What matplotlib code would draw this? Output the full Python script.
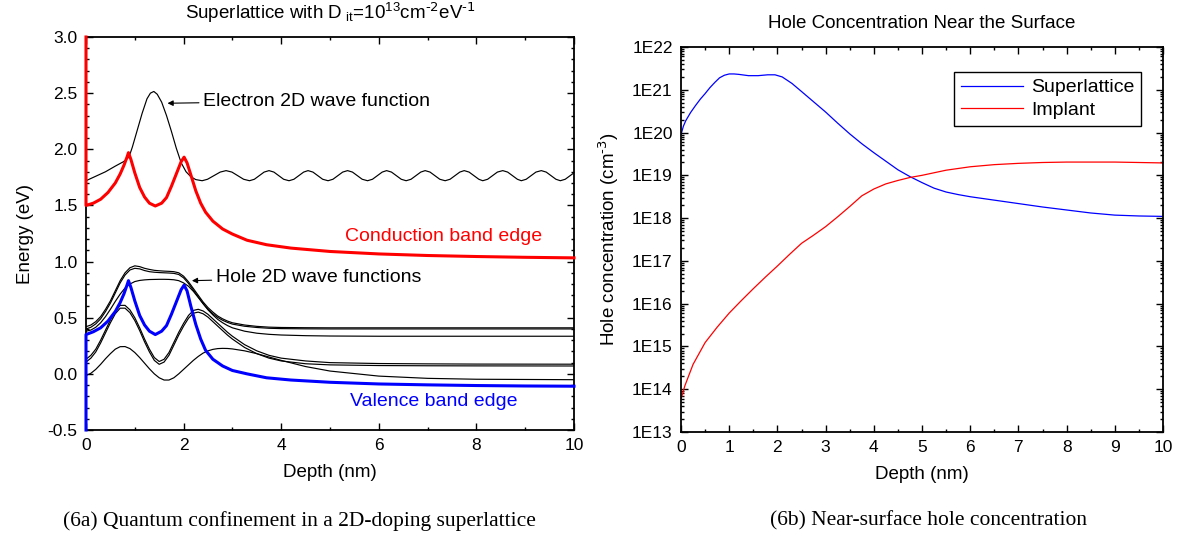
import numpy as np
import matplotlib
matplotlib.use('Agg')
import matplotlib.pyplot as plt
from matplotlib.ticker import MultipleLocator, LogLocator, FuncFormatter, NullFormatter

plt.rcParams['font.family'] = ['Liberation Sans', 'DejaVu Sans']
plt.rcParams['mathtext.default'] = 'regular'

# ---- (6a) band diagram, energies in eV vs depth in nm ----
cb_x = [0.0, 0.0, 0.15, 0.3, 0.45, 0.6, 0.7, 0.78, 0.84, 0.87, 0.92, 1.0, 1.1, 1.2, 1.3, 1.42,
        1.55, 1.65, 1.75, 1.85, 1.95, 2.01, 2.07, 2.15, 2.25, 2.35, 2.45, 2.6, 2.8, 3.0,
        3.3, 3.7, 4.2, 5.0, 6.0, 7.0, 8.0, 9.0, 10.0]
cb_e = [3.0, 1.50, 1.52, 1.555, 1.615, 1.70, 1.78, 1.86, 1.93, 1.97, 1.91, 1.79, 1.66, 1.575, 1.52, 1.495,
        1.52, 1.57, 1.67, 1.78, 1.89, 1.93, 1.88, 1.77, 1.63, 1.52, 1.44, 1.36, 1.29, 1.245,
        1.19, 1.15, 1.12, 1.09, 1.068, 1.054, 1.045, 1.038, 1.033]

vb_x = [0.0, 0.0, 0.15, 0.3, 0.45, 0.6, 0.7, 0.78, 0.84, 0.87, 0.92, 1.0, 1.1, 1.2, 1.3, 1.42,
        1.55, 1.65, 1.75, 1.85, 1.95, 2.01, 2.07, 2.15, 2.25, 2.35, 2.45, 2.6, 2.8, 3.0,
        3.3, 3.7, 4.2, 5.0, 6.0, 7.0, 8.0, 9.0, 10.0]
vb_e = [-0.5, 0.35, 0.375, 0.41, 0.47, 0.555, 0.635, 0.715, 0.79, 0.83, 0.77, 0.65, 0.52, 0.435, 0.38, 0.35,
        0.38, 0.43, 0.53, 0.64, 0.75, 0.79, 0.74, 0.60, 0.44, 0.31, 0.21, 0.13, 0.07, 0.03,
        0.0, -0.035, -0.055, -0.075, -0.09, -0.098, -0.104, -0.108, -0.11]

el_x = [0.0, 0.2, 0.4, 0.6, 0.77, 0.88, 0.95, 1.05, 1.15, 1.25, 1.32, 1.39, 1.46, 1.55, 1.65,
        1.75, 1.85, 1.95, 2.05, 2.15, 2.25,
        2.38, 2.49, 2.62, 2.75, 2.87, 2.99, 3.11, 3.23,
        3.35, 3.45, 3.55, 3.65, 3.75, 3.85, 3.95, 4.05,
        4.16, 4.26, 4.36, 4.46, 4.55, 4.65, 4.75, 4.85,
        4.96, 5.06, 5.16, 5.26, 5.36, 5.46, 5.56, 5.66,
        5.77, 5.87, 5.97, 6.07, 6.16, 6.26, 6.36, 6.46,
        6.56, 6.66, 6.76, 6.86, 6.95, 7.05, 7.15, 7.25,
        7.36, 7.46, 7.56, 7.66, 7.75, 7.85, 7.95, 8.05,
        8.13, 8.23, 8.33, 8.43, 8.54, 8.64, 8.74, 8.84,
        8.92, 9.02, 9.12, 9.22, 9.33, 9.43, 9.53, 9.63,
        9.72, 9.82, 9.92, 10.0]
el_e = [1.72, 1.76, 1.80, 1.85, 1.89, 1.93, 2.02, 2.17, 2.32, 2.45, 2.50, 2.515, 2.49, 2.42, 2.30,
        2.16, 2.01, 1.88, 1.80, 1.755, 1.73,
        1.72, 1.733, 1.765, 1.797, 1.81, 1.797, 1.765, 1.733,
        1.72, 1.733, 1.765, 1.797, 1.81, 1.797, 1.765, 1.733,
        1.72, 1.733, 1.765, 1.797, 1.81, 1.797, 1.765, 1.733,
        1.72, 1.733, 1.765, 1.797, 1.81, 1.797, 1.765, 1.733,
        1.72, 1.733, 1.765, 1.797, 1.81, 1.797, 1.765, 1.733,
        1.72, 1.733, 1.765, 1.797, 1.81, 1.797, 1.765, 1.733,
        1.72, 1.733, 1.765, 1.797, 1.81, 1.797, 1.765, 1.733,
        1.72, 1.733, 1.765, 1.797, 1.81, 1.797, 1.765, 1.733,
        1.72, 1.733, 1.765, 1.797, 1.81, 1.797, 1.765, 1.733,
        1.72, 1.733, 1.765, 1.79]

hole_x = [0.0, 0.1, 0.2, 0.3, 0.4, 0.5, 0.6, 0.7, 0.8, 0.9, 1.0, 1.1, 1.2, 1.3, 1.4, 1.5,
          1.6, 1.7, 1.8, 1.9, 2.0, 2.1, 2.2, 2.3, 2.4, 2.5, 2.6, 2.7, 2.8, 2.9, 3.0,
          3.25, 3.5, 3.75, 4.0, 4.5, 5.0, 6.0, 7.0, 8.0, 10.0]
hole_1 = [0.42, 0.435, 0.465, 0.51, 0.575, 0.65, 0.74, 0.83, 0.90, 0.945, 0.962, 0.955, 0.94, 0.93, 0.922, 0.918,
          0.915, 0.913, 0.91, 0.90, 0.87, 0.82, 0.76, 0.70, 0.64, 0.59, 0.55, 0.515, 0.49, 0.47, 0.455,
          0.435, 0.423, 0.416, 0.413, 0.411, 0.41, 0.41, 0.41, 0.41, 0.41]
hole_2 = [0.40, 0.415, 0.445, 0.49, 0.555, 0.63, 0.72, 0.81, 0.88, 0.925, 0.94, 0.935, 0.92, 0.91, 0.905, 0.902,
          0.90, 0.898, 0.895, 0.885, 0.855, 0.805, 0.745, 0.685, 0.625, 0.575, 0.535, 0.502, 0.477, 0.458, 0.443,
          0.424, 0.413, 0.406, 0.403, 0.401, 0.40, 0.40, 0.40, 0.40, 0.40]
hole_3 = [0.38, 0.39, 0.415, 0.455, 0.51, 0.575, 0.645, 0.71, 0.765, 0.80, 0.822, 0.832, 0.837, 0.84, 0.841, 0.842,
          0.842, 0.841, 0.838, 0.83, 0.81, 0.78, 0.735, 0.68, 0.625, 0.57, 0.525, 0.485, 0.455, 0.43, 0.41,
          0.38, 0.362, 0.352, 0.346, 0.34, 0.337, 0.335, 0.335, 0.335, 0.335]
hole_4 = [0.13, 0.165, 0.22, 0.30, 0.39, 0.48, 0.56, 0.61, 0.61, 0.57, 0.50, 0.41, 0.31, 0.22, 0.145, 0.11,
          0.13, 0.19, 0.28, 0.37, 0.45, 0.52, 0.565, 0.575, 0.56, 0.53, 0.49, 0.45, 0.41, 0.37, 0.335,
          0.26, 0.205, 0.165, 0.14, 0.115, 0.10, 0.092, 0.089, 0.087, 0.086]
hole_5 = [0.105, 0.14, 0.195, 0.275, 0.365, 0.455, 0.535, 0.585, 0.585, 0.545, 0.475, 0.385, 0.285, 0.195, 0.12, 0.085,
          0.105, 0.165, 0.255, 0.345, 0.425, 0.495, 0.54, 0.55, 0.535, 0.505, 0.465, 0.425, 0.385, 0.345, 0.31,
          0.235, 0.18, 0.14, 0.115, 0.09, 0.08, 0.074, 0.072, 0.071, 0.07]
hole_6 = [-0.015, 0.005, 0.04, 0.085, 0.135, 0.18, 0.22, 0.242, 0.243, 0.225, 0.19, 0.145, 0.095, 0.045, 0.0, -0.035,
          -0.055, -0.055, -0.035, 0.0, 0.04, 0.08, 0.12, 0.155, 0.185, 0.205, 0.218, 0.225, 0.227, 0.226, 0.222,
          0.205, 0.18, 0.15, 0.12, 0.065, 0.025, -0.02, -0.04, -0.048, -0.052]

# ---- (6b) hole concentration, log10(cm^-3) vs depth ----
sl_x = [0.0, 0.05, 0.1, 0.2, 0.3, 0.4, 0.5, 0.6, 0.7, 0.8, 0.9, 1.0, 1.1, 1.2, 1.4, 1.6, 1.8, 1.95,
        2.1, 2.3, 2.5, 2.75, 3.0, 3.25, 3.5, 3.75, 4.0, 4.25, 4.5, 4.75, 5.0, 5.25, 5.5, 5.75,
        6.0, 6.5, 7.0, 7.5, 8.0, 8.5, 9.0, 9.5, 10.0]
sl_log = [19.95, 20.15, 20.28, 20.47, 20.63, 20.78, 20.91, 21.05, 21.17, 21.28, 21.34, 21.37, 21.37, 21.36,
          21.33, 21.33, 21.35, 21.35, 21.30, 21.15, 20.96, 20.72, 20.48, 20.22, 19.97, 19.74, 19.53, 19.33,
          19.13, 18.97, 18.83, 18.70, 18.61, 18.55, 18.50, 18.42, 18.34, 18.26, 18.19, 18.12, 18.07, 18.05, 18.04]

im_x = [0.0, 0.08, 0.25, 0.5, 0.75, 1.0, 1.25, 1.5, 1.75, 2.0, 2.25, 2.5, 2.75, 3.0, 3.25, 3.5, 3.75,
        4.0, 4.25, 4.5, 4.75, 5.0, 5.5, 6.0, 6.5, 7.0, 7.5, 8.0, 8.5, 9.0, 9.5, 10.0]
im_log = [13.77, 14.08, 14.58, 15.09, 15.45, 15.78, 16.07, 16.35, 16.62, 16.88, 17.15, 17.41, 17.60, 17.80,
          18.03, 18.27, 18.52, 18.68, 18.80, 18.88, 18.95, 19.00, 19.12, 19.20, 19.25, 19.28, 19.30, 19.31,
          19.31, 19.31, 19.30, 19.29]

W, H = 1177, 538
fig = plt.figure(figsize=(W / 100, H / 100), dpi=100)
ax1 = fig.add_axes([86 / W, 1 - 430 / H, (574 - 86) / W, (430 - 37) / H])
ax2 = fig.add_axes([681 / W, 1 - 432 / H, (1163 - 681) / W, (432 - 47) / H])


def style_axes(ax):
    for s in ax.spines.values():
        s.set_linewidth(1.3)
    ax.tick_params(which='both', direction='in', top=True, right=True, labelsize=12.5, width=1.0)
    ax.tick_params(which='major', length=5, pad=6)
    ax.tick_params(which='minor', length=2.5)


# left panel
for hy in [hole_1, hole_2, hole_3, hole_4, hole_5, hole_6]:
    ax1.plot(hole_x, hy, color='black', lw=0.85)
ax1.plot(el_x, el_e, color='black', lw=0.85)
ax1.plot(cb_x, cb_e, color='#ff0000', lw=2.2, zorder=4, clip_on=False)
ax1.plot(vb_x, vb_e, color='#0000ff', lw=2.2, zorder=4, clip_on=False)

ax1.set_xlim(0, 10)
ax1.set_ylim(-0.5, 3.0)
ax1.xaxis.set_major_locator(MultipleLocator(2))
ax1.xaxis.set_minor_locator(MultipleLocator(1))
ax1.yaxis.set_major_locator(MultipleLocator(0.5))
ax1.yaxis.set_minor_locator(MultipleLocator(0.1))
ax1.yaxis.set_major_formatter(FuncFormatter(lambda v, p: f'{v:.1f}'.replace('\u2212', '-')))
style_axes(ax1)
ax1.set_xlabel('Depth (nm)', fontsize=13.5, labelpad=8)
ax1.set_ylabel('Energy (eV)', fontsize=13.5, labelpad=10)
ax1.set_title('Superlattice with D$_{\\ it}$=10$^{13}$cm$^{\\text{-2}}$eV$^{\\text{-1}}$',
              fontsize=13.5, pad=13)

arrow = dict(arrowstyle='-|>', color='black', lw=0.8, mutation_scale=8, shrinkA=1, shrinkB=0)
ax1.annotate('Electron 2D wave function', xy=(1.67, 2.41), xytext=(2.4, 2.43),
             va='center', fontsize=14, arrowprops=arrow)
ax1.annotate('Hole 2D wave functions', xy=(2.17, 0.83), xytext=(2.66, 0.855),
             va='center', fontsize=14, arrowprops=arrow)
ax1.text(5.3, 1.22, 'Conduction band edge', color='#ff0000', fontsize=14, va='center')
ax1.text(5.4, -0.25, 'Valence band edge', color='#0000ff', fontsize=14, va='center')

# right panel
ax2.plot(sl_x, 10 ** np.array(sl_log), color='#0000ff', lw=0.9, label='Superlattice')
ax2.plot(im_x, 10 ** np.array(im_log), color='#ff0000', lw=0.9, label='Implant')
ax2.set_yscale('log')
ax2.set_xlim(0, 10)
ax2.set_ylim(1e13, 1e22)
ax2.xaxis.set_major_locator(MultipleLocator(1))
ax2.xaxis.set_minor_locator(MultipleLocator(0.5))
ax2.yaxis.set_major_locator(LogLocator(base=10, numticks=20))
ax2.yaxis.set_minor_locator(LogLocator(base=10, subs=np.arange(2, 10), numticks=20))
ax2.yaxis.set_major_formatter(FuncFormatter(lambda v, p: f'1E{int(round(np.log10(v)))}'))
ax2.yaxis.set_minor_formatter(NullFormatter())
style_axes(ax2)
ax2.set_xlabel('Depth (nm)', fontsize=13.5, labelpad=8)
ax2.set_ylabel('Hole concentration (cm$^{\\text{-3}}$)', fontsize=13.5, labelpad=8)
ax2.set_title('Hole Concentration Near the Surface', fontsize=13.5, pad=14)
leg = ax2.legend(loc='upper right', bbox_to_anchor=(0.955, 0.935), fontsize=14,
                 handlelength=3.2, fancybox=False, framealpha=1, edgecolor='black',
                 borderaxespad=0, borderpad=0.35, labelspacing=0.25, handletextpad=0.4)
leg.get_frame().set_linewidth(1.0)

fig.text(299 / W, 1 - 521 / H, '(6a) Quantum confinement in a 2D-doping superlattice',
         ha='center', va='center', fontsize=15.5, family='Liberation Serif')
fig.text(928 / W, 1 - 521 / H, '(6b) Near-surface hole concentration',
         ha='center', va='center', fontsize=15.5, family='Liberation Serif')

fig.savefig('out.png', dpi=100)
